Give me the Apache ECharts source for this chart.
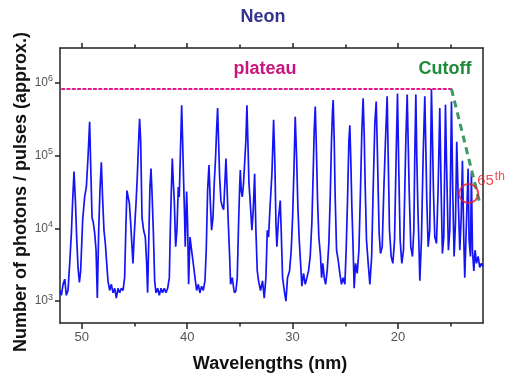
<!DOCTYPE html>
<html>
<head>
<meta charset="utf-8">
<title>Neon harmonic spectrum</title>
<script src="https://cdn.jsdelivr.net/npm/echarts@6/dist/echarts.min.js"></script>
<style>
  html, body { margin: 0; padding: 0; background: #fff; }
  #chart { width: 508px; height: 374px; }
</style>
</head>
<body>
<div id="chart"></div>
<script>
// Measured spectrum: [wavelength (nm), photons per pulse], split by wavelength band
const band52to44 = [
  [52.06,1400],[51.93,1200],[51.77,1700],[51.61,2000],[51.46,1200],[51.30,1400],[51.14,3300],
  [50.98,8600],[50.86,24000],[50.73,60000],[50.60,24000],[50.48,7600],[50.35,2900],[50.22,1800],
  [50.10,2600],[49.91,13000],[49.72,27000],[49.56,37000],[49.40,96000],[49.25,290000],[49.12,51000],
  [49.02,14000],[48.90,12000],[48.77,8600],[48.64,5000],[48.52,1100],[48.39,9400],[48.27,33000],
  [48.14,81000],[48.01,24000],[47.89,9400],[47.76,6200],[47.63,3300],[47.51,1900],[47.35,1400],
  [47.19,1700],[47.03,1300],[46.87,1500],[46.72,1100],[46.56,1500],[46.40,1300],[46.24,1500],
  [46.08,1400],[45.93,2100],[45.80,12000],[45.71,33000],[45.61,35000],[45.48,22000],[45.36,12000],
  [45.23,5600],[45.14,3300],[45.01,8600],[44.85,22000],[44.73,51000],[44.60,160000],[44.51,320000],
  [44.41,160000],[44.28,14000],[44.13,9400],[43.97,7600],[43.84,3300]
];
const band44to36 = [
  [43.75,1300],[43.62,9400],[43.53,37000],[43.43,66000],[43.34,33000],[43.21,9400],[43.08,1900],
  [42.96,1300],[42.80,1500],[42.64,1200],[42.48,1500],[42.33,1300],[42.17,1500],[42.01,1300],
  [41.85,1500],[41.69,2100],[41.60,9400],[41.50,33000],[41.41,91000],[41.31,42000],[41.22,24000],
  [41.09,5600],[40.97,9400],[40.84,37000],[40.75,27000],[40.65,96000],[40.52,490000],[40.43,160000],
  [40.33,42000],[40.24,14000],[40.18,5600],[40.05,32000],[39.96,12000],[39.86,1700],[39.73,7600],
  [39.58,5000],[39.42,3300],[39.26,2100],[39.10,1400],[38.94,1700],[38.79,1300],[38.63,1600],
  [38.47,1400],[38.31,1900],[38.19,5000],[38.06,33000],[37.93,74000],[37.81,24000],[37.68,9400],
  [37.55,14000],[37.43,42000],[37.30,96000],[37.21,220000],[37.11,450000],[37.02,160000],[36.92,51000],
  [36.80,24000],[36.67,20000],[36.54,18000],[36.42,42000],[36.32,91000],[36.23,42000],[36.10,12000],
  [35.97,4100],[35.88,1700],[35.72,2100],[35.56,1400]
];
const band36to27 = [
  [35.50,1300],[35.37,1400],[35.25,2100],[35.12,12000],[35.03,33000],[34.96,63000],[34.87,33000],
  [34.77,27000],[34.65,42000],[34.52,42000],[34.43,160000],[34.33,490000],[34.24,160000],[34.14,42000],
  [34.01,22000],[33.86,9400],[33.73,18000],[33.60,56000],[33.48,9400],[33.35,2600],[33.23,1900],
  [33.04,1400],[32.85,1900],[32.69,1100],[32.53,2100],[32.40,9400],[32.28,7600],[32.12,22000],
  [31.96,56000],[31.80,310000],[31.68,78000],[31.58,12000],[31.49,5600],[31.33,14000],[31.17,24000],
  [31.08,9400],[30.95,2100],[30.79,1400],[30.63,1000],[30.48,2100],[30.29,2600],[30.13,5000],
  [30.00,14000],[29.88,56000],[29.75,340000],[29.62,96000],[29.50,20000],[29.37,6900],[29.24,3300],
  [29.12,1600],[28.96,2400],[28.80,1700],[28.64,2100],[28.49,2600],[28.33,4100],[28.17,12000],
  [28.04,63000],[27.95,220000],[27.85,470000],[27.76,160000],[27.63,24000],[27.51,7600],[27.35,4100]
];
const band27to19 = [
  [27.25,2100],[27.13,3300],[27.00,2100],[26.87,1700],[26.72,2600],[26.56,6200],[26.43,27000],
  [26.31,160000],[26.21,420000],[26.15,580000],[26.05,160000],[25.96,27000],[25.83,5000],[25.67,3600],
  [25.52,2400],[25.36,1700],[25.20,2100],[25.04,1700],[24.92,5000],[24.79,24000],[24.66,160000],
  [24.57,260000],[24.47,78000],[24.38,20000],[24.28,6900],[24.16,1500],[24.03,3300],[23.87,2400],
  [23.71,5000],[23.56,33000],[23.43,220000],[23.31,610000],[23.21,200000],[23.12,42000],[22.99,6900],
  [22.83,3300],[22.67,1700],[22.50,4100],[22.36,33000],[22.20,270000],[22.07,550000],[21.98,160000],
  [21.88,33000],[21.79,8600],[21.66,4500],[21.50,5600],[21.35,33000],[21.19,160000],[21.03,650000],
  [20.93,96000],[20.81,9400],[20.65,4100],[20.49,3300],[20.33,6900],[20.18,96000],[20.05,710000],
  [19.92,56000],[19.80,6900],[19.64,3300],[19.48,5000]
];
const band19to12 = [
  [19.39,20000],[19.26,160000],[19.13,690000],[19.04,160000],[18.94,33000],[18.79,5600],[18.63,4100],
  [18.50,9400],[18.41,96000],[18.31,690000],[18.22,96000],[18.12,20000],[18.03,6900],[17.93,1900],
  [17.78,6900],[17.62,96000],[17.46,650000],[17.36,120000],[17.27,24000],[17.14,5600],[16.99,9400],
  [16.89,160000],[16.83,820000],[16.73,160000],[16.64,33000],[16.51,7600],[16.35,6200],[16.20,33000],
  [16.04,450000],[15.91,33000],[15.79,4500],[15.66,7600],[15.56,96000],[15.50,500000],[15.41,96000],
  [15.31,20000],[15.22,5000],[15.09,9400],[14.93,550000],[14.81,33000],[14.68,4100],[14.55,12000],
  [14.43,155000],[14.27,20000],[14.14,5000],[14.01,14000],[13.89,85000],[13.76,6900],[13.67,2100],
  [13.51,12000],[13.35,66000],[13.26,6900],[13.13,4100],[13.04,58000],[12.94,5000],[12.81,2600],
  [12.69,5000],[12.56,3300],[12.40,4100],[12.25,2900],[12.09,3300],[11.94,3000]
];

// Annotations
const plateauLevel = 820000;
const plateauSpan = [51.86, 14.93];
const cutoffLine = [[14.93, 820000], [12.24, 22000]];
const harmonic65 = [13.3, 30000];

// Axis ticks and labels
const xMajorTicks = [50, 40, 30, 20];
const xMinorTicks = [45, 35, 25, 15];
const xLabels = [50, 40, 30, 20];
const yTicks = [1e3, 1e4, 1e5, 1e6];
const xRange = [11.94, 52.06];
const yRange = [500, 3e6];

const spectrum = [].concat(band52to44, band44to36, band36to27, band27to19, band19to12);

const FONT = 'Liberation Sans, Arial, sans-serif';
const frame = { color: '#222', width: 1.5 };

function xAxisDef(position, ticks, len, showLabels, showLine) {
  return {
    type: 'value', inverse: true, min: xRange[0], max: xRange[1], position: position,
    axisLine: { show: showLine, onZero: false, lineStyle: frame },
    axisTick: { show: true, inside: false, length: len, customValues: ticks, lineStyle: frame },
    axisLabel: showLabels ? { customValues: xLabels, color: '#555', fontSize: 13, fontFamily: FONT, margin: 8 } : { show: false },
    splitLine: { show: false }
  };
}

const chart = echarts.init(document.getElementById('chart'), null, { renderer: 'canvas' });
chart.setOption({
  animation: false,
  backgroundColor: '#fff',
  grid: { left: 60, right: 25, top: 48, bottom: 51, containLabel: false },
  xAxis: [
    xAxisDef('bottom', xMajorTicks, 6, true, true),
    xAxisDef('bottom', xMinorTicks, 3.5, false, false),
    xAxisDef('top', xMajorTicks, 5, false, true),
    xAxisDef('top', xMinorTicks, 3.5, false, false)
  ],
  yAxis: [
    {
      type: 'log', logBase: 10, min: yRange[0], max: yRange[1], position: 'left',
      axisLine: { show: true, lineStyle: frame },
      axisTick: { show: true, inside: false, length: 5, customValues: yTicks, lineStyle: frame },
      axisLabel: {
        customValues: yTicks, margin: 7, padding: [0, 0, 5, 0],
        formatter: v => '{b|10}{s|' + Math.round(Math.log10(v)) + '}',
        rich: {
          b: { fontSize: 12, lineHeight: 12, color: '#555', fontFamily: FONT, padding: [5, 0, 0, 0] },
          s: { fontSize: 9, lineHeight: 9, color: '#555', fontFamily: FONT, verticalAlign: 'top' }
        }
      },
      splitLine: { show: false }
    },
    {
      type: 'log', logBase: 10, min: yRange[0], max: yRange[1], position: 'right',
      axisLine: { show: true, lineStyle: frame },
      axisTick: { show: false }, axisLabel: { show: false }, splitLine: { show: false }
    }
  ],
  series: [
    {
      name: 'Neon', type: 'line', data: spectrum, showSymbol: false, symbol: 'none',
      lineStyle: { color: '#1414f5', width: 1.7 }, z: 2
    },
    {
      name: 'plateau', type: 'line', symbol: 'none',
      data: [[plateauSpan[0], plateauLevel], [plateauSpan[1], plateauLevel]],
      lineStyle: { color: '#e0188a', width: 2.2, type: [2.2, 3.1], cap: 'round' }, z: 3
    },
    {
      name: 'Cutoff', type: 'line', symbol: 'none', data: cutoffLine,
      lineStyle: { color: '#3a9a62', width: 3, type: [7, 5] }, z: 3
    },
    {
      name: '65th', type: 'scatter', data: [harmonic65], symbol: 'circle', symbolSize: 19,
      itemStyle: { color: 'rgba(0,0,0,0)', borderColor: '#e8202a', borderWidth: 2 },
      label: {
        show: true, position: 'right', distance: 0, offset: [-2, -15],
        formatter: '{n|65}{t|th}',
        rich: {
          n: { fontSize: 15, lineHeight: 15, color: '#e8202a', fontFamily: FONT, padding: [4, 0, 0, 0] },
          t: { fontSize: 12, lineHeight: 12, color: '#e8202a', fontFamily: FONT, verticalAlign: 'top', padding: [0, 0, 0, 1] }
        }
      },
      z: 4
    }
  ],
  graphic: [
    { type: 'text', x: 263, y: 17, style: { text: 'Neon', fill: '#34348f', font: 'bold 18px ' + FONT, textAlign: 'center', textVerticalAlign: 'middle' } },
    { type: 'text', x: 265, y: 69, style: { text: 'plateau', fill: '#c8147f', font: 'bold 18px ' + FONT, textAlign: 'center', textVerticalAlign: 'middle' } },
    { type: 'text', x: 445, y: 69, style: { text: 'Cutoff', fill: '#1e8a3a', font: 'bold 18px ' + FONT, textAlign: 'center', textVerticalAlign: 'middle' } },
    { type: 'text', x: 270, y: 364, style: { text: 'Wavelengths (nm)', fill: '#111', font: 'bold 18px ' + FONT, textAlign: 'center', textVerticalAlign: 'middle' } },
    { type: 'text', x: 21, y: 192, rotation: Math.PI / 2, style: { text: 'Number of photons / pulses (approx.)', fill: '#111', font: 'bold 18px ' + FONT, textAlign: 'center', textVerticalAlign: 'middle' } }
  ]
});
</script>
</body>
</html>
